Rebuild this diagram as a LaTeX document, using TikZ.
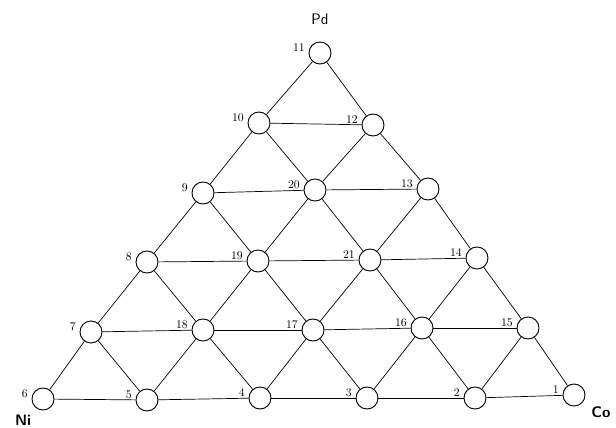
\documentclass[tikz,border=0pt]{standalone}
\usepackage{tikz}
\usetikzlibrary{positioning}
\tikzset{
  site/.style={circle, draw, fill=white, minimum size=0.66cm,
    inner sep=0pt, line width=0.8pt},
  sitelbl/.style={font=\fontsize{10}{12}\selectfont, inner sep=1pt,
    anchor=south east, xshift=-2pt},
  tie/.style={line width=0.6pt},
  corner/.style={font=\sffamily\fontsize{13}{15}\selectfont, inner sep=1pt},
  boldcorner/.style={corner, font=\sffamily\bfseries\fontsize{13}{15}\selectfont}
}

\begin{document}
\begin{tikzpicture}[x=0.03cm, y=-0.03cm]
  \useasboundingbox (0,0) rectangle (616,428);
  % composition points, numbered as in the grid
  \foreach \n/\x/\y in {1/574/395, 2/475/398, 3/367/398, 4/260/398, 5/147/400, 6/43/399,
                        7/91/332, 18/203/330, 17/313/330, 16/422/328, 15/528/328,
                        8/147/262, 19/258/261, 21/370/260, 14/477/258,
                        9/203/193, 20/315/190, 13/428/189,
                        10/259/123, 12/373/125, 11/320/53}
    \node[site, label={[sitelbl]west:\n}] (p\n) at (\x,\y) {};
  % horizontal rows
  \foreach \a/\b in {6/5, 5/4, 4/3, 3/2, 2/1, 7/18, 18/17, 17/16, 16/15,
                     8/19, 19/21, 21/14, 9/20, 20/13, 10/12}
    \draw[tie] (p\a) -- (p\b);
  % slanted lines
  \foreach \a/\b in {6/7, 5/7, 5/18, 4/18, 4/17, 3/17, 3/16, 2/16, 2/15, 1/15,
                     7/8, 18/8, 18/19, 17/19, 17/21, 16/21, 16/14, 15/14,
                     8/9, 19/9, 19/20, 21/20, 21/13, 14/13,
                     9/10, 20/10, 20/12, 13/12, 10/11, 12/11}
    \draw[tie] (p\a) -- (p\b);
  % pure metals
  \node[corner, above=0.45cm of p11] (pd) {Pd};
  \node[boldcorner] (ni) at (23,420) {Ni};
  \node[boldcorner] (co) at (601,412) {Co};
\end{tikzpicture}
\end{document}
